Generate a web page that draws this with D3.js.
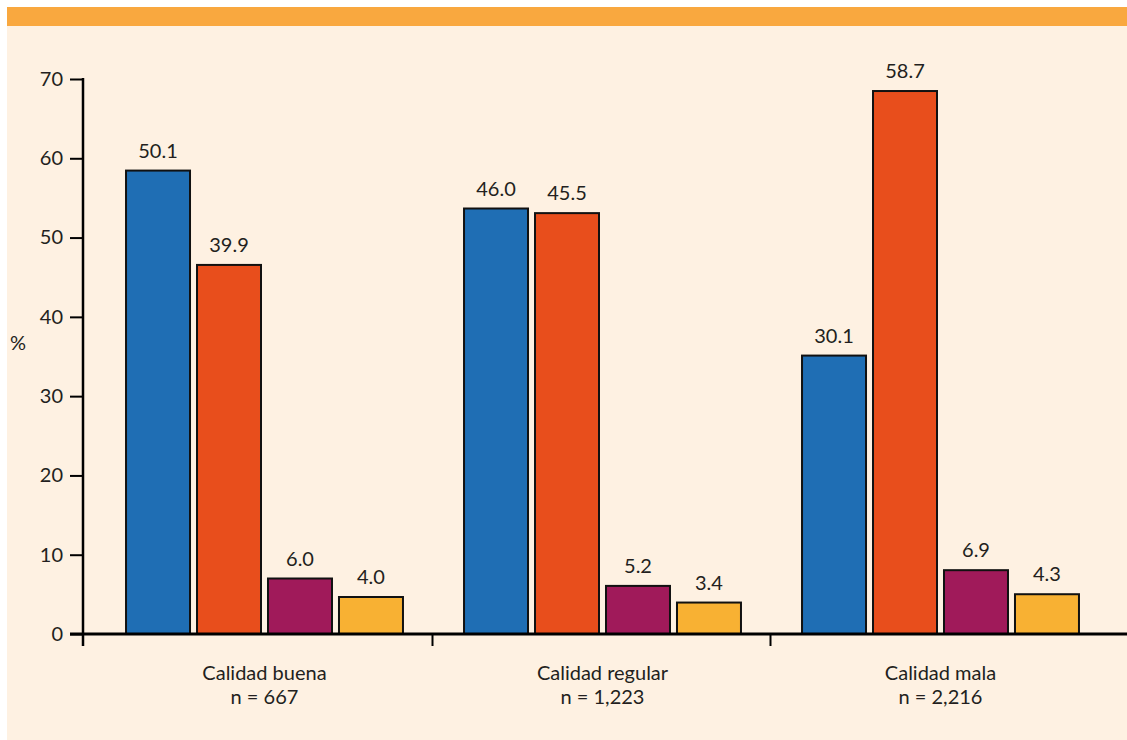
<!DOCTYPE html>
<html>
<head>
<meta charset="utf-8">
<script src="https://cdn.jsdelivr.net/npm/d3@7"></script>
<style>
  html, body { margin: 0; padding: 0; background: #ffffff; }
  svg { display: block; }
  text { font-family: "Lato", "Open Sans", sans-serif; fill: #231f20; }
</style>
</head>
<body>
<svg id="chart" width="1127" height="740"></svg>
<script>
// Quality groups and their sample sizes
const categories = ["Calidad buena", "Calidad regular", "Calidad mala"];
const sampleSizes = ["n = 667", "n = 1,223", "n = 2,216"];

// Four series per group, in drawing order
const seriesNames = ["s1", "s2", "s3", "s4"];
const s1Values = [50.1, 46.0, 30.1];
const s2Values = [39.9, 45.5, 58.7];
const s3Values = [6.0, 5.2, 6.9];
const s4Values = [4.0, 3.4, 4.3];
const seriesColors = ["#1f6eb4", "#e84e1c", "#a01a5a", "#f8b133"];

// Axis tick labels printed on the value axis
const yTickValues = [0, 10, 20, 30, 40, 50, 60, 70];

const seriesValues = [s1Values, s2Values, s3Values, s4Values];
const rows = categories.map((c, i) => ({
  category: c,
  n: sampleSizes[i],
  values: seriesNames.map((s, j) => ({ key: s, value: seriesValues[j][i], color: seriesColors[j] }))
}));

const FS = "20px";
const svg = d3.select("#chart");
const W = 1127, H = 740;

// Frame: cream panel with an orange header strip
svg.append("rect").attr("x", 7).attr("y", 7).attr("width", W - 7).attr("height", H - 7).attr("fill", "#fef1e2");
svg.append("rect").attr("x", 7).attr("y", 7).attr("width", W - 7).attr("height", 19).attr("fill", "#f9a83f");

const plotTop = 79, plotBottom = 634;
const axisX = 83;

// Bar heights scale and printed tick scale share the same pixel range
const y = d3.scaleLinear().domain([0, 60]).range([plotBottom, plotTop]);
const yTicks = d3.scaleLinear().domain([0, 70]).range([plotBottom, plotTop]);

const x0 = d3.scaleBand().domain(categories).range([95.5, 1109.5]).paddingInner(0).paddingOuter(0);
const x1 = d3.scaleBand().domain(seriesNames).range([0, x0.bandwidth()]).paddingInner(0.0986).paddingOuter(0.43);

// Value axis
const yAxis = svg.append("g")
  .attr("transform", `translate(${axisX},0)`)
  .call(d3.axisLeft(yTicks).tickValues(yTickValues).tickSize(13).tickPadding(7).tickFormat(d3.format("d")));
yAxis.select(".domain").remove();
yAxis.selectAll(".tick line").attr("stroke", "#000").attr("stroke-width", 2);
yAxis.selectAll(".tick text").style("font-family", "Lato, 'Open Sans', sans-serif").style("font-size", FS).attr("fill", "#231f20");

svg.append("line")
  .attr("x1", axisX).attr("x2", axisX)
  .attr("y1", yTicks(70) - 1).attr("y2", plotBottom + 12)
  .attr("stroke", "#000").attr("stroke-width", 2.5);

svg.append("text")
  .attr("x", 10).attr("y", 350)
  .style("font-size", FS)
  .text("%");

// Bars
const groups = svg.append("g").selectAll("g")
  .data(rows).join("g")
  .attr("transform", d => `translate(${x0(d.category)},0)`);

groups.selectAll("rect")
  .data(d => d.values).join("rect")
  .attr("x", d => x1(d.key))
  .attr("y", d => y(d.value))
  .attr("width", x1.bandwidth())
  .attr("height", d => y(0) - y(d.value))
  .attr("fill", d => d.color)
  .attr("stroke", "#111")
  .attr("stroke-width", 2);

groups.selectAll("text.val")
  .data(d => d.values).join("text")
  .attr("class", "val")
  .attr("x", d => x1(d.key) + x1.bandwidth() / 2)
  .attr("y", d => y(d.value) - 13)
  .attr("text-anchor", "middle")
  .style("font-size", FS)
  .text(d => d3.format(".1f")(d.value));

// Baseline and group separators
svg.append("line")
  .attr("x1", 70).attr("x2", W)
  .attr("y1", plotBottom).attr("y2", plotBottom)
  .attr("stroke", "#000").attr("stroke-width", 3);

svg.append("g").selectAll("line")
  .data(categories.slice(1)).join("line")
  .attr("x1", d => x0(d) - 1).attr("x2", d => x0(d) - 1)
  .attr("y1", plotBottom).attr("y2", plotBottom + 12)
  .attr("stroke", "#000").attr("stroke-width", 2);

// Category labels, two lines each
const labelX = d => x0(d.category) + x0.bandwidth() / 2;
const labels = svg.append("g");
labels.selectAll("text.cat")
  .data(rows).join("text")
  .attr("class", "cat")
  .attr("x", labelX).attr("y", 680)
  .attr("text-anchor", "middle")
  .style("font-size", FS)
  .text(d => d.category);
labels.selectAll("text.n")
  .data(rows).join("text")
  .attr("class", "n")
  .attr("x", labelX).attr("y", 704)
  .attr("text-anchor", "middle")
  .style("font-size", FS)
  .text(d => d.n);
</script>
</body>
</html>
